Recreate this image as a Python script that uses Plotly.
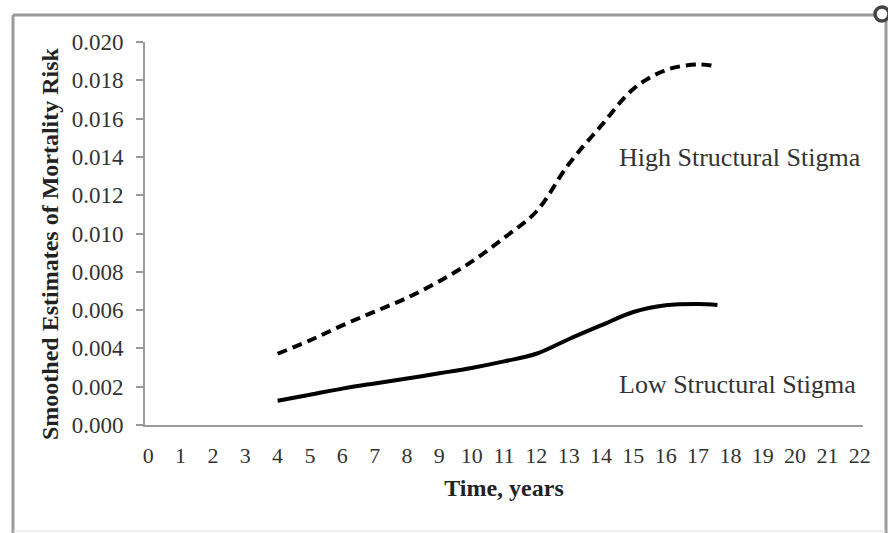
import plotly.graph_objects as go

# Smoothed mortality risk estimates by follow-up time
years = [4, 5, 6, 7, 8, 9, 10, 11, 12, 13, 14, 15, 16, 17, 17.6]
high_stigma = [0.00372, 0.00442, 0.00520, 0.00592, 0.00664, 0.00751, 0.00853,
               0.00977, 0.01115, 0.01362, 0.01562, 0.01755, 0.01853, 0.01883, 0.01871]
low_stigma = [0.00127, 0.00158, 0.00190, 0.00217, 0.00243, 0.00270, 0.00298,
              0.00332, 0.00372, 0.00448, 0.00520, 0.00590, 0.00625, 0.00632, 0.00627]

x_ticks = list(range(0, 23))
y_ticks = [0.000, 0.002, 0.004, 0.006, 0.008, 0.010, 0.012, 0.014, 0.016, 0.018, 0.020]
y_tick_labels = [f"{v:.3f}" for v in y_ticks]

SERIF = "Liberation Serif, Times New Roman, serif"
W, H = 888, 533
ML, MR, MT, MB = 145, 25, 42, 108
PW, PH = W - ML - MR, H - MT - MB


def px(x):
    return (x - ML) / PW


def py(y):
    return (H - MB - y) / PH


fig = go.Figure()

fig.add_trace(go.Scatter(
    x=years, y=high_stigma, mode="lines", line_shape="spline",
    line=dict(color="#000000", width=4, dash="10px,6px"),
    name="High Structural Stigma", showlegend=False, hoverinfo="skip"))

fig.add_trace(go.Scatter(
    x=years, y=low_stigma, mode="lines", line_shape="spline",
    line=dict(color="#000000", width=4),
    name="Low Structural Stigma", showlegend=False, hoverinfo="skip"))

fig.add_annotation(x=px(740), y=py(157), xref="paper", yref="paper",
                   text="High Structural Stigma", showarrow=False,
                   xanchor="center", yanchor="middle",
                   font=dict(family=SERIF, size=26, color="#333333"))
fig.add_annotation(x=px(737), y=py(384), xref="paper", yref="paper",
                   text="Low Structural Stigma", showarrow=False,
                   xanchor="center", yanchor="middle",
                   font=dict(family=SERIF, size=26, color="#333333"))

# y-axis title, placed by hand so it sits a little below the plot centre
fig.add_annotation(x=px(50), y=py(244), xref="paper", yref="paper",
                   text="<b>Smoothed Estimates of Mortality Risk</b>",
                   showarrow=False, textangle=-90,
                   xanchor="center", yanchor="middle",
                   font=dict(family=SERIF, size=24, color="#222222"))

# outer chart frame
frame = dict(type="line", xref="paper", yref="paper",
             line=dict(color="#9a9a9a", width=3))
fig.add_shape(x0=px(13), x1=px(886), y0=py(15), y1=py(15), **frame)
fig.add_shape(x0=px(13), x1=px(13), y0=py(15), y1=py(540), **frame)
fig.add_shape(x0=px(886), x1=px(886), y0=py(15), y1=py(540), **frame)
fig.add_shape(type="line", xref="paper", yref="paper",
              x0=px(13), x1=px(886), y0=py(531), y1=py(531),
              line=dict(color="#e0e0e0", width=1))
fig.add_shape(type="circle", xref="paper", yref="paper",
              x0=px(875), x1=px(889), y0=py(7), y1=py(21),
              line=dict(color="#444444", width=3.5), fillcolor="white")

fig.update_layout(
    width=W, height=H,
    margin=dict(l=ML, r=MR, t=MT, b=MB),
    paper_bgcolor="white", plot_bgcolor="white",
    font=dict(family=SERIF, color="#333333"),
    xaxis=dict(
        range=[-0.1, 22.1], tickmode="array", tickvals=x_ticks,
        ticktext=[str(t) for t in x_ticks],
        showgrid=False, zeroline=False, showline=True,
        linecolor="#9a9a9a", linewidth=2, ticks="",
        tickfont=dict(family=SERIF, size=22, color="#333333"),
        ticklabelstandoff=10,
        title=dict(text="<b>Time, years</b>", standoff=12,
                   font=dict(family=SERIF, size=24, color="#222222")),
    ),
    yaxis=dict(
        range=[0, 0.020], tickmode="array", tickvals=y_ticks,
        ticktext=y_tick_labels,
        showgrid=False, zeroline=False, showline=True,
        linecolor="#9a9a9a", linewidth=2,
        ticks="outside", ticklen=7, tickwidth=2, tickcolor="#9a9a9a",
        tickfont=dict(family=SERIF, size=23, color="#333333"),
        ticklabelstandoff=8,
    ),
)

fig.write_html("out.html")
